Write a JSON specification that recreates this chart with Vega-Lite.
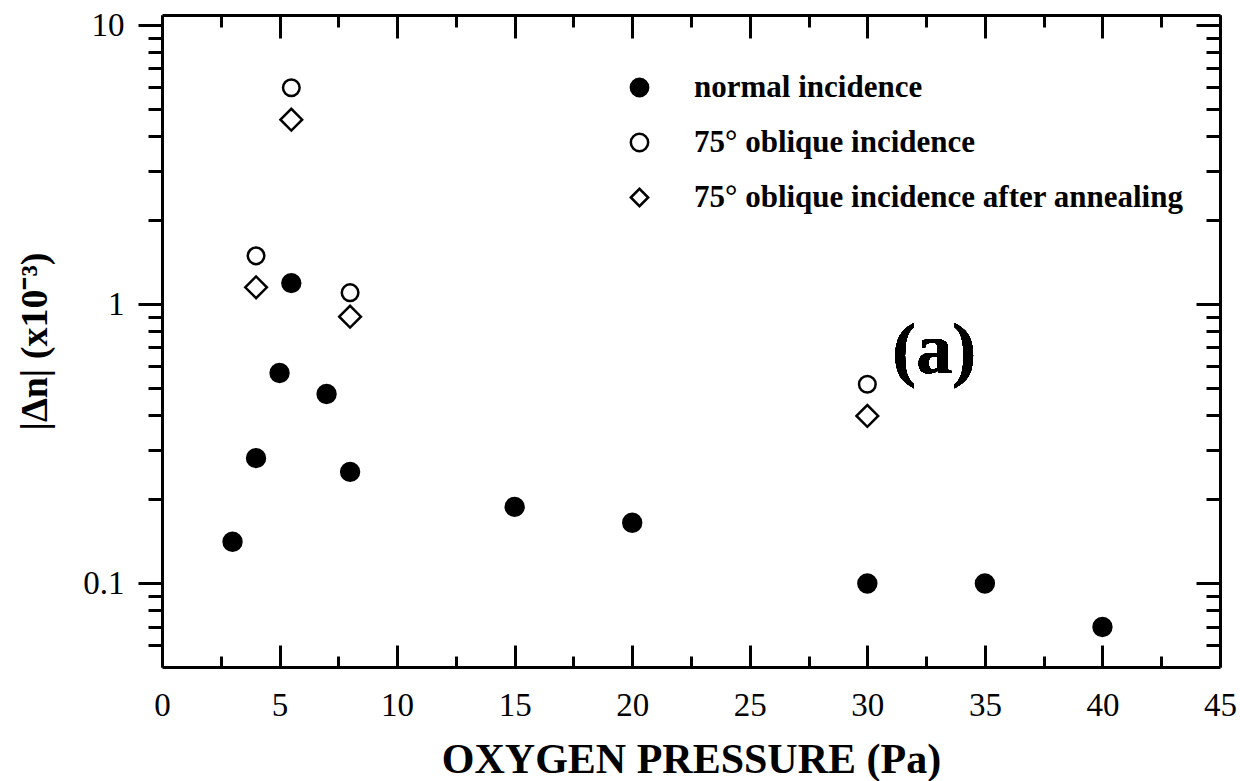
{
  "$schema": "https://vega.github.io/schema/vega-lite/v6.json",
  "width": 1058,
  "height": 652,
  "autosize": {"type": "none"},
  "padding": {"left": 162, "top": 15, "right": 20, "bottom": 114},
  "background": "white",
  "config": {
    "view": {"stroke": null},
    "font": "Liberation Serif",
    "axis": {
      "domainColor": "black", "domainWidth": 3,
      "tickColor": "black", "tickWidth": 3,
      "labelColor": "black", "titleColor": "black",
      "grid": false,
      "labelFont": "Liberation Serif", "titleFont": "Liberation Serif"
    },
    "legend": {
      "orient": "none", "legendX": 462, "legendY": 57,
      "labelFont": "Liberation Serif", "labelFontWeight": "bold", "labelFontSize": 31, "labelColor": "black",
      "labelOffset": 39, "rowPadding": 23, "labelLimit": 800,
      "symbolSize": 300, "symbolStrokeWidth": 2.5
    }
  },
  "data": {
    "values": [
      {"pressure": 3, "dn": 0.141, "series": "normal incidence"},
      {"pressure": 4, "dn": 0.281, "series": "normal incidence"},
      {"pressure": 5, "dn": 0.567, "series": "normal incidence"},
      {"pressure": 5.5, "dn": 1.19, "series": "normal incidence"},
      {"pressure": 7, "dn": 0.477, "series": "normal incidence"},
      {"pressure": 8, "dn": 0.251, "series": "normal incidence"},
      {"pressure": 15, "dn": 0.188, "series": "normal incidence"},
      {"pressure": 20, "dn": 0.165, "series": "normal incidence"},
      {"pressure": 30, "dn": 0.1, "series": "normal incidence"},
      {"pressure": 35, "dn": 0.1, "series": "normal incidence"},
      {"pressure": 40, "dn": 0.0698, "series": "normal incidence"},
      {"pressure": 4, "dn": 1.49, "series": "75° oblique incidence"},
      {"pressure": 5.5, "dn": 5.96, "series": "75° oblique incidence"},
      {"pressure": 8, "dn": 1.1, "series": "75° oblique incidence"},
      {"pressure": 30, "dn": 0.517, "series": "75° oblique incidence"},
      {"pressure": 4, "dn": 1.15, "series": "75° oblique incidence after annealing"},
      {"pressure": 5.5, "dn": 4.58, "series": "75° oblique incidence after annealing"},
      {"pressure": 8, "dn": 0.902, "series": "75° oblique incidence after annealing"},
      {"pressure": 30, "dn": 0.398, "series": "75° oblique incidence after annealing"}
    ]
  },
  "layer": [
    {
      "mark": {"type": "point", "filled": true, "strokeWidth": 2.5, "opacity": 1},
      "encoding": {
        "x": {
          "field": "pressure", "type": "quantitative",
          "scale": {"domain": [0, 45], "nice": false, "zero": false},
          "axis": {
            "orient": "bottom",
            "values": [0, 2.5, 5, 7.5, 10, 12.5, 15, 17.5, 20, 22.5, 25, 27.5, 30, 32.5, 35, 37.5, 40, 42.5, 45],
            "labelExpr": "datum.value % 5 === 0 ? datum.label : ''",
            "tickSize": {"condition": {"test": "datum.value % 5 === 0", "value": -22}, "value": -11},
            "labelFontSize": 33, "labelPadding": 44,
            "labelFlush": false, "labelOverlap": false,
            "title": "OXYGEN PRESSURE (Pa)",
            "titleFontSize": 42, "titleFontWeight": "bold", "titlePadding": 6
          }
        },
        "y": {
          "field": "dn", "type": "quantitative",
          "scale": {"type": "log", "domain": [0.0502, 10.86], "nice": false},
          "axis": {
            "orient": "left",
            "values": [0.06, 0.07, 0.08, 0.09, 0.1, 0.2, 0.3, 0.4, 0.5, 0.6, 0.7, 0.8, 0.9, 1, 2, 3, 4, 5, 6, 7, 8, 9, 10],
            "labelExpr": "datum.value === 0.1 ? '0.1' : datum.value === 1 ? '1' : datum.value === 10 ? '10' : ''",
            "tickSize": {"condition": {"test": "datum.value === 0.1 || datum.value === 1 || datum.value === 10", "value": 24}, "value": 14},
            "labelFontSize": 33, "labelPadding": 14,
            "labelFlush": false, "labelOverlap": false,
            "title": "|Δn| (x10⁻³)",
            "titleFontSize": 38, "titleFontWeight": "bold", "titlePadding": 28
          }
        },
        "shape": {
          "field": "series", "type": "nominal", "title": null,
          "scale": {"domain": ["normal incidence", "75° oblique incidence", "75° oblique incidence after annealing"], "range": ["circle", "circle", "diamond"]}
        },
        "fill": {
          "field": "series", "type": "nominal", "title": null,
          "scale": {"domain": ["normal incidence", "75° oblique incidence", "75° oblique incidence after annealing"], "range": ["black", "white", "white"]}
        },
        "stroke": {
          "field": "series", "type": "nominal", "title": null,
          "scale": {"domain": ["normal incidence", "75° oblique incidence", "75° oblique incidence after annealing"], "range": ["black", "black", "black"]}
        },
        "size": {
          "condition": [
            {"test": "datum.series === '75° oblique incidence after annealing'", "value": 470},
            {"test": "datum.series === '75° oblique incidence'", "value": 275}
          ],
          "value": 320
        }
      }
    },
    {
      "mark": {"type": "point", "opacity": 0},
      "encoding": {
        "x": {
          "field": "pressure", "type": "quantitative",
          "axis": {
            "orient": "top",
            "values": [0, 2.5, 5, 7.5, 10, 12.5, 15, 17.5, 20, 22.5, 25, 27.5, 30, 32.5, 35, 37.5, 40, 42.5, 45],
            "labels": false, "title": null,
            "tickSize": {"condition": {"test": "datum.value % 5 === 0", "value": -23}, "value": -12}
          }
        },
        "y": {
          "field": "dn", "type": "quantitative",
          "axis": {
            "orient": "right",
            "values": [0.06, 0.07, 0.08, 0.09, 0.1, 0.2, 0.3, 0.4, 0.5, 0.6, 0.7, 0.8, 0.9, 1, 2, 3, 4, 5, 6, 7, 8, 9, 10],
            "labels": false, "title": null,
            "tickSize": {"condition": {"test": "datum.value === 0.1 || datum.value === 1 || datum.value === 10", "value": -24}, "value": -14}
          }
        }
      }
    },
    {
      "mark": {"type": "text", "text": "(a)", "font": "Liberation Serif", "fontWeight": "bold", "fontSize": 72, "align": "center", "baseline": "middle", "color": "black"},
      "encoding": {
        "x": {"datum": 32.85, "type": "quantitative", "axis": null},
        "y": {"datum": 0.682, "type": "quantitative", "axis": null}
      }
    }
  ],
  "resolve": {"axis": {"x": "independent", "y": "independent"}}
}
